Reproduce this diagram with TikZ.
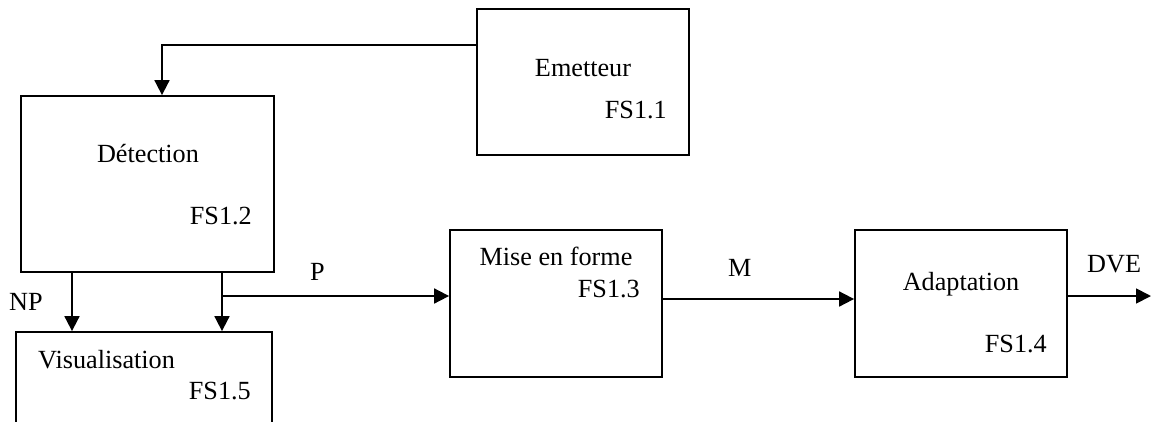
\documentclass[tikz,border=0pt]{standalone}
\usepackage{fontspec}
\setmainfont{Liberation Serif}
\usetikzlibrary{arrows.meta}
\tikzset{
  block/.style={draw, line width=1.8pt, inner sep=0pt, minimum width=212pt, minimum height=147pt},
  lbl/.style={inner sep=0pt, font=\fontsize{26.2}{30}\selectfont},
  flow/.style={line width=1.8pt, -{Triangle[length=15pt,width=15pt]}},
  wire/.style={line width=1.8pt}
}
\begin{document}
\begin{tikzpicture}[x=1pt,y=-1pt]
\useasboundingbox (0,0) rectangle (1151,421);

% function blocks
\node[block, minimum width=212pt, minimum height=146pt] (emet) at (583,82) {};
\node[block, minimum width=253pt, minimum height=176pt] (det) at (147.7,184) {};
\node[block] (mise) at (556,303.5) {};
\node[block] (adap) at (961,303.5) {};
\begin{scope}
  \clip (0,0) rectangle (1151,421);
  \node[block, minimum width=256pt, minimum height=160pt] (visu) at (144,412) {};
\end{scope}

% block texts
\node[lbl, anchor=base] (tdet) at (148,162.3) {Détection};
\node[lbl, anchor=base east] (fdet) at (252,224) {FS1.2};
\node[lbl, anchor=base] (temet) at (583,76) {Emetteur};
\node[lbl, anchor=base east] (femet) at (667,118.3) {FS1.1};
\node[lbl, anchor=base] (tmise) at (556,265) {Mise en forme};
\node[lbl, anchor=base east] (fmise) at (640,297.3) {FS1.3};
\node[lbl, anchor=base] (tadap) at (961,290) {Adaptation};
\node[lbl, anchor=base east] (fadap) at (1047,352.7) {FS1.4};
\node[lbl, anchor=base west] (tvisu) at (38,368) {Visualisation};
\node[lbl, anchor=base east] (fvisu) at (251,399) {FS1.5};

% signal labels
\node[lbl, anchor=base west] (lnp) at (9,310.7) {NP};
\node[lbl, anchor=base west] (lp) at (310,280.7) {P};
\node[lbl, anchor=base west] (lm) at (728,276) {M};
\node[lbl, anchor=base west] (ldve) at (1087,272.7) {DVE};

% connector routing points
\coordinate (fb) at (477,45);
\coordinate (fbx) at (162,0);
\coordinate (npx) at (72,0);
\coordinate (px) at (222,0);
\coordinate (pj) at (222,296);
\coordinate (mj) at (662,299);
\coordinate (dvej) at (1067,296);
\coordinate (out) at (1151,296);

% connectors
\draw[flow] (fb) -| (det.north -| fbx);
\draw[flow] (det.south -| npx) -- (visu.north -| npx);
\draw[flow] (det.south -| px) -- (visu.north -| px);
\draw[flow] (pj) -- (mise.west |- pj);
\draw[flow] (mise.east |- mj) -- (adap.west |- mj);
\draw[flow] (adap.east |- dvej) -- (out);
\end{tikzpicture}
\end{document}
